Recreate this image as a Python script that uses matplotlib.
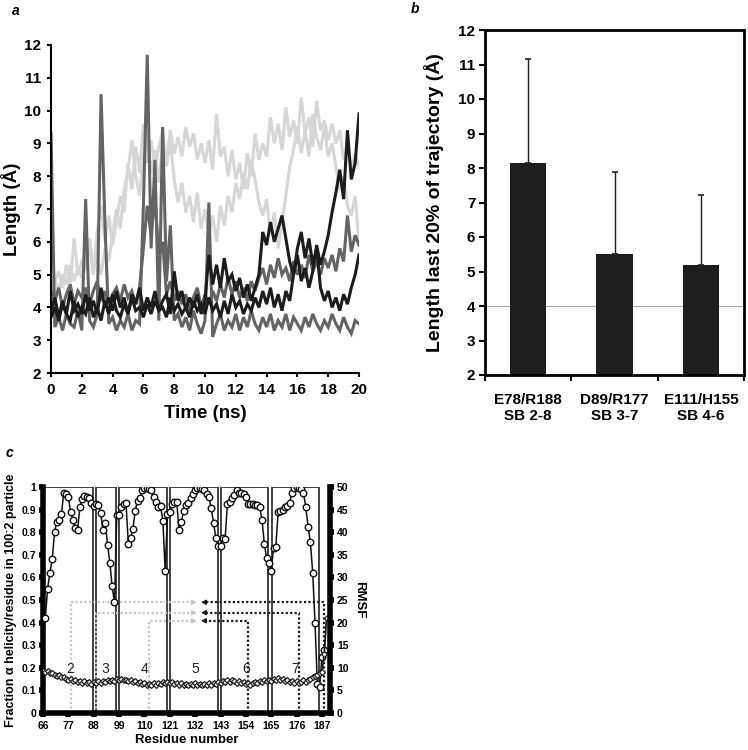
import matplotlib
matplotlib.use("Agg")
import matplotlib.pyplot as plt
from matplotlib.patches import Rectangle
import numpy as np

plt.rcParams['font.family'] = ['Liberation Sans', 'DejaVu Sans']
plt.rcParams['font.weight'] = 'bold'

# ---------------- panel a: salt bridge length vs time (read every 0.25 ns)
time_ns = np.linspace(0, 20, 81)
light_upper = [4.6, 4.9, 4.5, 5.0, 4.7, 5.3, 4.8, 5.2, 4.9,
               5.6, 6.1, 5.2, 5.5, 5.0, 5.8, 5.4, 6.2,
               7.0, 6.4, 7.6, 8.2, 9.1, 8.0, 7.4, 8.6,
               9.3, 8.1, 8.8, 7.8, 9.0, 8.4, 9.4, 8.7,
               9.2, 8.6, 9.5, 8.9, 9.3, 8.5, 9.0, 8.4,
               9.1, 8.2, 9.9, 8.6, 8.9, 8.0, 8.8, 7.9,
               8.4, 7.6, 8.7, 8.0, 9.3, 8.5, 9.0, 8.6,
               9.8, 9.0, 9.6, 8.8, 10.1, 9.2, 9.7, 9.0,
               10.4, 9.3, 9.8, 8.9, 10.3, 9.4, 9.7, 9.1,
               9.6, 9.0, 9.4, 8.5, 8.9, 8.2, 8.7, 8.3]
light_lower = [4.4, 4.8, 5.1, 4.6, 5.3, 4.7, 6.1, 5.0, 5.4,
               5.2, 5.9, 5.0, 6.3, 7.1, 6.0, 6.8, 5.9,
               6.6, 7.4, 6.9, 8.4, 7.6, 8.9, 8.1, 9.6,
               8.4, 9.1, 8.2, 8.9, 9.4, 8.3, 9.1, 7.9,
               7.2, 7.8, 6.9, 7.4, 6.6, 7.5, 6.4, 7.0,
               6.2, 6.8, 6.0, 7.1, 6.5, 7.4, 6.9, 7.8,
               7.3, 8.1, 7.6, 8.5, 7.9, 7.2, 6.8, 7.3,
               6.2, 6.9, 5.8, 6.6, 7.4, 8.3, 8.8, 9.5,
               8.7, 9.4, 8.6, 9.9, 9.2, 8.8, 9.5, 8.6,
               9.0, 8.3, 7.6, 8.0, 7.1, 6.8, 7.4, 6.0]
gray_low = [9.3, 3.4, 3.7, 3.3, 3.8, 3.5, 3.4, 3.9, 3.3,
            7.3, 3.6, 3.4, 3.8, 10.5, 6.6, 3.5, 3.7,
            3.3, 3.6, 3.4, 3.8, 3.3, 3.6, 3.5, 7.1,
            11.7, 5.8, 8.5, 3.6, 9.5, 4.8, 6.5, 3.6,
            3.8, 3.4, 3.7, 3.3, 3.9, 3.5, 3.2, 3.6,
            7.2, 3.1, 3.5, 3.8, 3.3, 3.6, 3.4, 3.8,
            3.3, 3.7, 3.4, 3.9, 3.5, 3.3, 3.7, 3.4,
            3.8, 3.3, 3.6, 3.4, 3.8, 3.3, 3.7, 3.5,
            3.3, 3.7, 3.4, 3.8, 3.5, 3.3, 3.6, 3.4,
            3.8, 3.5, 3.3, 3.7, 3.4, 3.2, 3.6, 3.5]
gray_high = [4.5, 4.2, 4.6, 4.0, 4.4, 4.7, 4.1, 4.5, 4.3,
             4.6, 4.1, 4.5, 4.8, 4.2, 4.5, 4.0, 4.4,
             4.6, 4.2, 4.7, 4.3, 4.5, 4.1, 4.6, 5.8,
             7.1, 6.2, 7.4, 5.5, 6.0, 4.4, 4.8, 4.2,
             4.5, 4.1, 4.4, 3.9, 4.3, 4.6, 4.0, 4.4,
             4.1, 4.5, 4.2, 4.7, 4.3, 4.9, 4.4, 4.8,
             4.3, 4.6, 4.2, 4.8, 4.5, 4.9, 5.2, 4.7,
             5.3, 4.9, 5.5, 5.0, 5.2, 4.8, 5.4, 5.0,
             5.3, 4.9, 5.6, 5.1, 5.4, 5.0, 5.5, 5.2,
             5.6, 5.1, 5.8, 5.4, 6.8, 5.7, 6.2, 5.9]
black_rising = [3.9, 4.3, 3.7, 4.2, 3.8, 4.5, 3.9, 4.1, 3.8,
                4.4, 3.9, 4.2, 3.8, 4.6, 4.0, 4.3, 3.9,
                4.5, 4.0, 4.3, 3.8, 4.4, 4.1, 4.6, 3.9,
                4.3, 4.0, 4.5, 3.9, 4.2, 4.4, 3.8, 5.1,
                4.2, 4.5, 3.9, 4.3, 4.0, 4.4, 3.8, 4.2,
                5.6, 4.7, 5.3, 4.6, 5.5, 4.8, 5.0, 4.5,
                4.9, 4.3, 4.7, 4.2, 4.6, 5.0, 6.3, 5.9,
                6.6, 6.0, 6.4, 6.8, 6.1, 5.4, 5.0, 5.6,
                4.8, 5.2, 4.6, 5.1, 5.9, 5.3, 5.7, 6.2,
                6.9, 7.5, 8.2, 7.3, 9.4, 7.9, 8.4, 9.9]
black_flat = [3.7, 4.0, 3.6, 4.1, 3.8, 3.6, 4.2, 3.7, 4.0,
              3.8, 4.3, 3.7, 4.0, 3.6, 4.2, 3.8, 4.4,
              3.9, 3.7, 4.1, 3.8, 4.3, 3.9, 4.0, 3.7,
              4.1, 3.8, 4.2, 3.9, 4.0, 3.7, 4.3, 3.9,
              4.1, 3.8, 4.0, 3.7, 4.2, 3.9, 4.1, 3.8,
              4.3, 3.9, 4.1, 3.7, 4.2, 3.8, 4.4, 4.0,
              4.2, 3.8, 4.1, 3.9, 4.3, 4.0, 4.5, 4.1,
              4.6, 4.0, 4.4, 3.9, 4.5, 4.2, 5.0, 5.8,
              6.3, 5.5, 6.1, 5.3, 5.8, 4.6, 4.2, 4.5,
              4.0, 4.3, 3.9, 4.4, 4.1, 4.6, 5.0, 5.6]

# ---------------- panel b: mean length over the last 20 %
bridge_labels = ['E78/R188\nSB 2-8', 'D89/R177\nSB 3-7', 'E111/H155\nSB 4-6']
bridge_mean = [8.15, 5.5, 5.2]
bridge_sd = [3.0, 2.38, 2.03]

# ---------------- panel c: helicity (residues 67-188) and RMSF (66-189)
helicity = [0.42, 0.55, 0.62, 0.68, 0.80, 0.845, 0.855, 0.88, 0.975, 0.97,
            0.955, 0.89, 0.855, 0.82, 0.81, 0.91, 0.945, 0.96, 0.955, 0.95,
            0.93, 0.915, 0.925, 0.92, 0.885, 0.81, 0.84, 0.745, 0.665, 0.56,
            0.49, 0.875, 0.875, 0.91, 0.925, 0.93, 0.75, 0.775, 0.815, 0.895,
            0.94, 0.95, 0.985, 0.995, 0.995, 0.99, 0.985, 0.955, 0.935, 0.91,
            0.915, 0.85, 0.63, 0.88, 0.89, 0.925, 0.935, 0.935, 0.81, 0.845,
            0.895, 0.92, 0.93, 0.95, 0.97, 0.985, 0.995, 0.995, 0.99, 0.985,
            0.97, 0.955, 0.905, 0.84, 0.775, 0.74, 0.74, 0.775, 0.77, 0.925,
            0.935, 0.95, 0.965, 0.985, 0.975, 0.975, 0.97, 0.955, 0.925, 0.925,
            0.925, 0.92, 0.92, 0.91, 0.855, 0.75, 0.685, 0.665, 0.63, 0.73,
            0.735, 0.89, 0.895, 0.90, 0.91, 0.915, 0.93, 0.975, 0.995, 1.0,
            0.995, 0.99, 0.975, 0.91, 0.825, 0.755, 0.62, 0.40, 0.13, 0.115,
            0.25, 0.28]
rmsf = [9.3, 9.0, 9.2, 8.8, 8.9, 8.5, 8.2, 8.4, 7.9, 8.0,
        7.6, 7.3, 7.5, 7.0, 7.2, 6.8, 7.1, 6.7, 7.0, 6.6,
        6.9, 6.5, 6.8, 6.6, 7.0, 6.7, 7.1, 6.8, 7.2, 7.0,
        7.4, 7.1, 7.6, 7.3, 7.5, 7.2, 7.4, 7.0, 7.2, 6.8,
        7.0, 6.6, 6.8, 6.4, 6.7, 6.3, 6.5, 6.2, 6.6, 6.3,
        6.7, 6.4, 6.8, 6.6, 6.9, 6.6, 6.9, 6.5, 6.7, 6.3,
        6.6, 6.2, 6.5, 6.1, 6.4, 6.2, 6.6, 6.3, 6.5, 6.1,
        6.4, 6.2, 6.6, 6.3, 6.7, 6.5, 6.9, 6.7, 7.1, 6.8,
        7.2, 6.9, 7.3, 7.0, 6.7, 7.0, 6.6, 6.9, 6.4, 6.7,
        6.3, 6.6, 6.9, 6.6, 7.0, 6.8, 7.2, 7.0, 7.4, 7.1,
        7.6, 7.3, 7.7, 7.2, 7.5, 7.0, 7.3, 6.8, 7.1, 6.7,
        7.0, 6.6, 6.9, 7.2, 6.9, 7.4, 7.6, 7.9, 8.2, 8.5,
        8.8, 9.1, 13.0, 21.0]
helix_bounds = [(66, 87.7), (89, 97.7), (99, 119.8), (121.2, 141.9),
                (143, 163.7), (165.2, 185.7)]
segment_labels = ['2', '3', '4', '5', '6', '7']
segment_label_x = [77.7, 93, 110, 132, 154, 175.5]
acid_res = [78, 89, 112]
base_res = [188, 177, 155]
link_level = [0.49, 0.444, 0.408]
residue_ticks = [66, 77, 88, 99, 110, 121, 132, 143, 154, 165, 176, 187]

fig = plt.figure(figsize=(7.48, 7.5), dpi=100)

# ---- a
ax_a = fig.add_axes([51 / 748, 1 - 373 / 750, 308 / 748, 328 / 750])
traces = [(light_upper, '#d6d6d6'), (light_lower, '#d6d6d6'),
          (gray_high, '#646464'), (gray_low, '#646464'),
          (black_flat, '#1c1c1c'), (black_rising, '#1c1c1c')]
for ys, col in traces:
    ax_a.plot(time_ns, ys, color=col, lw=2.2, solid_joinstyle='miter')
ax_a.set_xlim(0, 20)
ax_a.set_ylim(2, 12)
ax_a.set_xticks(range(0, 21, 2))
ax_a.set_yticks(range(2, 13))
for s in ['top', 'right']:
    ax_a.spines[s].set_visible(False)
for s in ['left', 'bottom']:
    ax_a.spines[s].set_linewidth(1.5)
ax_a.tick_params(labelsize=11, width=1.5, length=3, pad=4)
ax_a.set_xlabel('Time (ns)', fontsize=13.5, fontweight='bold', labelpad=6)
ax_a.set_ylabel('Length (Å)', fontsize=13.5, fontweight='bold', labelpad=2)
fig.text(12 / 748, 1 - 11 / 750, 'a', fontsize=10, style='italic', fontweight='bold', va='center')

# ---- b
ax_b = fig.add_axes([485 / 748, 1 - 375 / 750, 259 / 748, 345 / 750])
xb = np.arange(len(bridge_mean))
ax_b.axhline(4, color='#a8a8a8', lw=0.8, zorder=1)
ax_b.bar(xb, bridge_mean, width=0.42, color='#1e1e1e', zorder=2)
ax_b.errorbar(xb, bridge_mean, yerr=[[0] * 3, bridge_sd], fmt='none',
              ecolor='#1e1e1e', elinewidth=1, capsize=2.5, capthick=1.2, zorder=3)
ax_b.set_xlim(-0.5, 2.5)
ax_b.set_ylim(2, 12)
ax_b.set_yticks(range(2, 13))
ax_b.set_xticks([-0.5, 0.5, 1.5, 2.5])
ax_b.set_xticklabels([])
ax_b.set_xticks(xb, minor=True)
ax_b.set_xticklabels(bridge_labels, minor=True, fontsize=11, fontweight='bold')
ax_b.tick_params(axis='x', which='minor', length=0, pad=13)
ax_b.tick_params(axis='x', which='major', length=4, width=1.5)
ax_b.tick_params(axis='y', labelsize=11, width=1.5, length=4, pad=3)
for s in ax_b.spines.values():
    s.set_linewidth(2)
ax_b.set_ylabel('Length last 20% of trajectory (Å)', fontsize=14, fontweight='bold', labelpad=10)
fig.text(411 / 748, 1 - 9 / 750, 'b', fontsize=10, style='italic', fontweight='bold', va='center')

# ---- c
ax_c = fig.add_axes([43 / 748, 1 - 713 / 750, 287 / 748, 226 / 750])
res_h = np.arange(67, 67 + len(helicity))
res_r = np.arange(66, 66 + len(rmsf))
for lo, hi in helix_bounds:
    ax_c.add_patch(Rectangle((lo, 0), hi - lo, 1, fill=False, ec='#333333', lw=1.3, zorder=1))
dot = (0, (1, 1))
for xa, xb_, yl in zip(acid_res, base_res, link_level):
    ax_c.plot([xa, xa, 131.5], [0, yl, yl], color='#c6c6c6', lw=1.6, ls=dot, zorder=2)
    ax_c.annotate('', xy=(132.8, yl), xytext=(130.5, yl),
                  arrowprops=dict(arrowstyle='-|>', color='#c6c6c6', lw=1, mutation_scale=7,
                                  shrinkA=0, shrinkB=0), zorder=2)
    ax_c.plot([xb_, xb_, 135.8], [0, yl, yl], color='#1a1a1a', lw=1.6, ls=dot, zorder=2)
    ax_c.annotate('', xy=(134.5, yl), xytext=(136.8, yl),
                  arrowprops=dict(arrowstyle='-|>', color='#1a1a1a', lw=1, mutation_scale=7,
                                  shrinkA=0, shrinkB=0), zorder=2)
for lab, xl in zip(segment_labels, segment_label_x):
    ax_c.text(xl, 0.195, lab, fontsize=10, fontweight='normal', color='#222222',
              ha='center', va='center', zorder=3)
ax_c.plot(res_h, helicity, color='#111111', lw=1.1, marker='o', ms=4.7,
          mfc='white', mec='#111111', mew=1, zorder=4)
ax_c.set_xlim(66, 190.5)
ax_c.set_ylim(0, 1)
ax_c.set_xticks(residue_ticks)
ax_c.set_yticks(np.arange(0, 1.01, 0.1))
ax_c.set_yticklabels(['0', '0.1', '0.2', '0.3', '0.4', '0.5', '0.6', '0.7', '0.8', '0.9', '1'])
for s in ['top', 'right']:
    ax_c.spines[s].set_visible(False)
for s in ['left', 'bottom']:
    ax_c.spines[s].set_linewidth(4)
ax_c.tick_params(labelsize=7.5, width=4, length=3, pad=2)
ax_c.tick_params(axis='x', pad=3)
ax_c.set_xlabel('Residue number', fontsize=9.5, fontweight='bold', labelpad=2)
ax_c.set_ylabel('Fraction α helicity/residue in 100:2 particle', fontsize=9, fontweight='bold', labelpad=3)

ax_r = ax_c.twinx()
ax_r.plot(res_r, rmsf, color='#1e1e1e', lw=1.3, marker='D', ms=3.0,
          mfc='white', mec='#1e1e1e', mew=0.9)
ax_r.set_ylim(0, 50)
ax_r.set_yticks(range(0, 51, 5))
for s in ['top', 'left', 'bottom']:
    ax_r.spines[s].set_visible(False)
ax_r.spines['right'].set_linewidth(4)
ax_r.tick_params(labelsize=7.5, width=4, length=3, pad=2)
ax_r.set_ylabel('RMSF', fontsize=9.5, fontweight='bold', rotation=-90, labelpad=12)
fig.text(6 / 748, 1 - 453 / 750, 'c', fontsize=10, style='italic', fontweight='bold', va='center')

fig.savefig('out.png', dpi=100)
